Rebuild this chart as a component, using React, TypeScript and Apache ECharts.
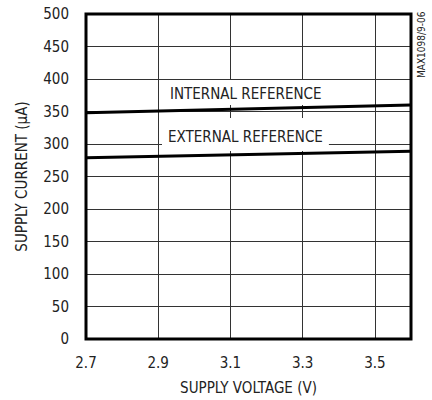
import React, { useEffect, useRef } from "react";
import * as echarts from "echarts";

const voltage = [2.7, 3.6];
const internalRef = [348, 360];
const externalRef = [279, 289];
const xLabels = [2.7, 2.9, 3.1, 3.3, 3.5];
const xGrid = [2.9, 3.1, 3.3, 3.5];

const FONT = "'Liberation Sans Narrow', 'DejaVu Sans Condensed', 'Arial Narrow', sans-serif";
const FS = 15;

export default function App() {
  const ref = useRef<HTMLDivElement>(null);
  useEffect(() => {
    if (!ref.current) return;
    const chart = echarts.init(ref.current, null, { renderer: "svg" });
    chart.setOption({
      animation: false,
      backgroundColor: "#fff",
      grid: {
        left: 86,
        right: 21,
        top: 14,
        bottom: 60,
        show: true,
        borderColor: "#000",
        borderWidth: 3,
        z: 3,
      },
      xAxis: {
        type: "value",
        min: 2.7,
        max: 3.6,
        name: "SUPPLY VOLTAGE (V)",
        nameLocation: "middle",
        nameGap: 41,
        nameTextStyle: { fontFamily: FONT, fontSize: FS, color: "#222" },
        axisLine: { show: false },
        axisTick: { show: false, customValues: xGrid },
        axisLabel: {
          customValues: xLabels,
          fontFamily: FONT,
          fontSize: FS,
          color: "#222",
          margin: 16,
          formatter: (v: number) => v.toFixed(1),
        },
        splitLine: { show: true, lineStyle: { color: "#333", width: 1 } },
      },
      yAxis: {
        type: "value",
        min: 0,
        max: 500,
        interval: 50,
        name: "SUPPLY CURRENT (µA)",
        nameLocation: "middle",
        nameGap: 57,
        nameTextStyle: { fontFamily: FONT, fontSize: FS, color: "#222" },
        axisLine: { show: false },
        axisTick: { show: false },
        axisLabel: { fontFamily: FONT, fontSize: FS, color: "#222", margin: 17 },
        splitLine: { show: true, lineStyle: { color: "#333", width: 1 } },
      },
      graphic: [
        {
          type: "text",
          left: 165,
          top: 80,
          z: 10,
          style: {
            text: "INTERNAL REFERENCE",
            font: `${FS}px ${FONT}`,
            fill: "#222",
            backgroundColor: "#fff",
            padding: [6, 4, 4, 5],
          },
        },
        {
          type: "text",
          left: 162,
          top: 118,
          z: 10,
          style: {
            text: "EXTERNAL REFERENCE",
            font: `${FS}px ${FONT}`,
            fill: "#222",
            backgroundColor: "#fff",
            padding: [11, 6, 7, 6],
          },
        },
        {
          type: "text",
          x: 416,
          y: 78,
          rotation: Math.PI / 2,
          z: 10,
          style: {
            text: "MAX1098/9-06",
            font: `10px ${FONT}`,
            fill: "#222",
          },
        },
      ],
      series: [
        {
          type: "line",
          data: voltage.map((v, i) => [v, internalRef[i]]),
          symbol: "none",
          lineStyle: { color: "#000", width: 3 },
          z: 5,
        },
        {
          type: "line",
          data: voltage.map((v, i) => [v, externalRef[i]]),
          symbol: "none",
          lineStyle: { color: "#000", width: 3 },
          z: 5,
        },
      ],
    });
    return () => chart.dispose();
  }, []);
  return (
    <div
      ref={ref}
      style={{ position: "fixed", left: 0, top: 0, width: 432, height: 400 }}
    />
  );
}
